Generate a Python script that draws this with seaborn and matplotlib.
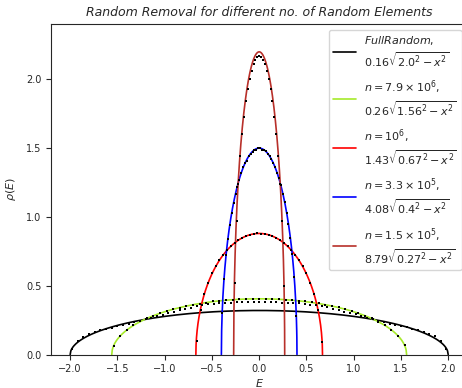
import numpy as np
import pandas as pd
import matplotlib
matplotlib.use("Agg")
import matplotlib.pyplot as plt
import seaborn as sns

# Fitted semicircle curves: support radius and peak height of each fit
series_names = ["FullRandom", "n=7.9e6", "n=1e6", "n=3.3e5", "n=1.5e5"]
radius = [2.0, 1.56, 0.67, 0.4, 0.27]
peak = [0.32, 0.405, 0.88, 1.50, 2.20]
colors = ["black", "#a6ea2a", "red", "blue", "#b8302a"]
legend_labels = [
    "$FullRandom$,\n$0.16\\sqrt{2.0^2-x^2}$",
    "$n = 7.9\\times10^6$,\n$0.26\\sqrt{1.56^2-x^2}$",
    "$n = 10^6$,\n$1.43\\sqrt{0.67^2-x^2}$",
    "$n = 3.3\\times10^5$,\n$4.08\\sqrt{0.4^2-x^2}$",
    "$n = 1.5\\times10^5$,\n$8.79\\sqrt{0.27^2-x^2}$",
]

# Histogram points (bin centres span [lo, hi])
full_range = (-1.98, 1.98)
full_hist = [0.04, 0.10, 0.13, 0.15, 0.165, 0.176, 0.186, 0.196, 0.205, 0.214,
             0.224, 0.234, 0.245, 0.256, 0.268, 0.279, 0.290, 0.301, 0.311, 0.322,
             0.332, 0.341, 0.350, 0.357, 0.364, 0.369, 0.373, 0.376, 0.378, 0.380,
             0.379, 0.381, 0.380, 0.382, 0.381, 0.379, 0.380, 0.378, 0.377, 0.375,
             0.372, 0.368, 0.363, 0.357, 0.351, 0.342, 0.333, 0.323, 0.312, 0.302,
             0.291, 0.280, 0.269, 0.257, 0.246, 0.235, 0.225, 0.215, 0.206, 0.197,
             0.187, 0.177, 0.166, 0.152, 0.132, 0.10, 0.04]

n79_range = (-1.54, 1.54)
n79_hist = [0.065, 0.135, 0.178, 0.211, 0.240, 0.262, 0.281, 0.299, 0.315, 0.330,
            0.341, 0.352, 0.363, 0.370, 0.378, 0.386, 0.390, 0.394, 0.399, 0.401,
            0.403, 0.404, 0.402, 0.405, 0.403, 0.401, 0.398, 0.396, 0.390, 0.386,
            0.379, 0.371, 0.363, 0.353, 0.342, 0.329, 0.316, 0.301, 0.283, 0.262,
            0.239, 0.212, 0.178, 0.137, 0.066]

n1e6_range = (-0.66, 0.66)
n1e6_hist = [0.10, 0.32, 0.44, 0.52, 0.59, 0.64, 0.69, 0.72, 0.76, 0.79,
             0.81, 0.83, 0.85, 0.86, 0.87, 0.875, 0.88, 0.878, 0.876, 0.87,
             0.86, 0.85, 0.83, 0.81, 0.79, 0.76, 0.72, 0.69, 0.64, 0.59,
             0.52, 0.44, 0.32, 0.09]

n33_range = (-0.39, 0.39)
n33_hist = [0.30, 0.55, 0.72, 0.84, 0.94, 1.03, 1.10, 1.17, 1.22, 1.27,
            1.32, 1.36, 1.39, 1.41, 1.44, 1.46, 1.47, 1.49, 1.49, 1.50,
            1.50, 1.49, 1.49, 1.48, 1.46, 1.44, 1.42, 1.39, 1.36, 1.32,
            1.28, 1.23, 1.17, 1.11, 1.03, 0.95, 0.85, 0.73, 0.56, 0.28]

n15_range = (-0.26, 0.26)
n15_hist = [0.52, 0.97, 1.24, 1.44, 1.60, 1.73, 1.84, 1.93, 2.00, 2.06,
            2.11, 2.14, 2.16, 2.17, 2.16, 2.14, 2.11, 2.06, 2.00, 1.93,
            1.84, 1.73, 1.60, 1.44, 1.24, 0.97, 0.50]

hist_sets = [(full_range, full_hist), (n79_range, n79_hist), (n1e6_range, n1e6_hist),
             (n33_range, n33_hist), (n15_range, n15_hist)]

sns.set_style("ticks")
plt.rcParams["font.family"] = ["DejaVu Sans"]
plt.rcParams["mathtext.fontset"] = "dejavusans"

fig = plt.figure(figsize=(4.62, 3.88), dpi=100)
ax = fig.add_axes([0.111, 0.0863, 0.900, 0.851])

handles = []
for name, r, p, c in zip(series_names, radius, peak, colors):
    xs = np.linspace(-r, r, 600)
    ys = p * np.sqrt(np.clip(1 - (xs / r) ** 2, 0, None))
    df = pd.DataFrame({"E": xs, "rho": ys})
    sns.lineplot(data=df, x="E", y="rho", color=c, lw=1.2, estimator=None,
                 sort=False, ax=ax, zorder=2)
    handles.append(ax.lines[-1])

for (lo, hi), vals in hist_sets:
    pts = pd.DataFrame({"E": np.linspace(lo, hi, len(vals)), "rho": vals})
    sns.scatterplot(data=pts, x="E", y="rho", color="black", marker="s", s=3,
                    linewidth=0, ax=ax, zorder=3)

ax.set_xlim(-2.2, 2.2)
ax.set_ylim(0, 2.4)
ax.set_xticks([-2.0, -1.5, -1.0, -0.5, 0.0, 0.5, 1.0, 1.5, 2.0])
ax.set_yticks([0.0, 0.5, 1.0, 1.5, 2.0])
ax.tick_params(labelsize=7, width=0.8, length=3.5)
for s in ax.spines.values():
    s.set_linewidth(0.8)
    s.set_visible(True)
ax.set_xlabel("$E$", fontsize=8, labelpad=2)
ax.set_ylabel("$\\rho(E)$", fontsize=8, labelpad=6)
ax.set_title("Random Removal for different no. of Random Elements",
             fontsize=9, fontstyle="italic")

ax.legend(handles, legend_labels, loc="upper right", fontsize=8,
          labelspacing=0.85, handlelength=2.0)

fig.savefig("out.png", dpi=100)
